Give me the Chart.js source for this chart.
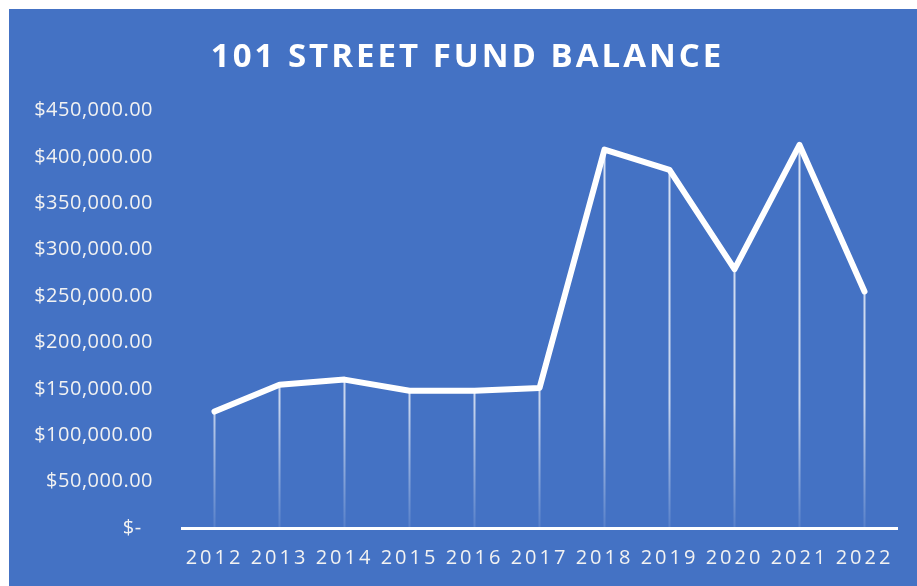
<!DOCTYPE html>
<html>
<head>
<meta charset="utf-8">
<script src="https://cdn.jsdelivr.net/npm/chart.js@4"></script>
<style>
  html, body { margin: 0; padding: 0; background: #ffffff; }
  #wrap { position: relative; width: 917px; height: 586px; }
</style>
</head>
<body>
<div id="wrap"><canvas id="chart"></canvas></div>
<script>
// Chart data
const YEARS = ['2012', '2013', '2014', '2015', '2016', '2017', '2018', '2019', '2020', '2021', '2022'];
const BALANCES = [125500, 154500, 160000, 148000, 148000, 151000, 408000, 386000, 279000, 413000, 255000];
const Y_TICKS = [0, 50000, 100000, 150000, 200000, 250000, 300000, 350000, 400000, 450000];
const TITLE = '101 STREET FUND BALANCE';

// Style constants
const FONT_FAMILY = "'Open Sans', 'DejaVu Sans', sans-serif";
const BG_COLOR = '#4472C4';
const TEXT_COLOR = '#F2F2F2';

// Canvas letterSpacing is not exposed by Chart.js, so wrap the draw call
function withSpacing(obj, name, spacing, shiftX = 0) {
  if (!obj || obj['_spaced_' + name]) return;
  const orig = obj[name];
  obj[name] = function(...args) {
    const ctx = this.ctx;
    const prev = ctx.letterSpacing;
    ctx.save();
    ctx.translate(shiftX, 0);
    ctx.letterSpacing = spacing;
    orig.apply(this, args);
    ctx.letterSpacing = prev;
    ctx.restore();
  };
  obj['_spaced_' + name] = true;
}

const panelPlugin = {
  id: 'panel',
  beforeDraw(chart) {
    const ctx = chart.ctx;
    ctx.save();
    ctx.fillStyle = BG_COLOR;
    ctx.fillRect(9, 9, chart.width - 9, chart.height - 9);
    ctx.restore();
  },
  afterLayout(chart) {
    // title sits centred on the blue panel, not on the whole canvas
    withSpacing(chart.titleBlock, 'draw', '3px', 19);
    withSpacing(chart.scales.x, 'drawLabels', '3px');
    withSpacing(chart.scales.y, 'drawLabels', '0.5px');
  }
};

// vertical drop lines from each point down to the axis, fading out at the bottom
const dropLinePlugin = {
  id: 'dropLines',
  beforeDatasetsDraw(chart) {
    const ctx = chart.ctx;
    const area = chart.chartArea;
    const base = chart.scales.y.getPixelForValue(0);
    const grad = ctx.createLinearGradient(0, area.top, 0, base);
    grad.addColorStop(0, 'rgba(255,255,255,0.8)');
    grad.addColorStop(0.7, 'rgba(255,255,255,0.7)');
    grad.addColorStop(1, 'rgba(255,255,255,0.1)');
    ctx.save();
    ctx.strokeStyle = grad;
    ctx.lineWidth = 2;
    chart.getDatasetMeta(0).data.forEach(pt => {
      ctx.beginPath();
      ctx.moveTo(pt.x, pt.y);
      ctx.lineTo(pt.x, base);
      ctx.stroke();
    });
    ctx.restore();
  }
};

new Chart(document.getElementById('chart'), {
  type: 'line',
  data: {
    labels: YEARS,
    datasets: [{
      label: 'Fund Balance',
      data: BALANCES,
      borderColor: '#ffffff',
      borderWidth: 6,
      borderJoinStyle: 'round',
      borderCapStyle: 'round',
      tension: 0,
      pointRadius: 0,
      fill: false
    }]
  },
  options: {
    responsive: true,
    maintainAspectRatio: false,
    animation: false,
    layout: {
      padding: { left: 0, right: 20, top: 0, bottom: 0 }
    },
    plugins: {
      legend: { display: false },
      tooltip: { enabled: false },
      title: {
        display: true,
        text: TITLE,
        color: '#ffffff',
        font: { family: FONT_FAMILY, size: 33, weight: 'bold', lineHeight: 1.2 },
        padding: { top: 38, bottom: 33 }
      }
    },
    scales: {
      x: {
        offset: true,
        grid: { display: false, drawTicks: false },
        border: { display: true, color: '#ffffff', width: 3 },
        afterFit(scale) { scale.height = 58; },
        ticks: {
          color: TEXT_COLOR,
          font: { family: FONT_FAMILY, size: 20 },
          padding: 18,
          autoSkip: false,
          maxRotation: 0
        }
      },
      y: {
        min: Y_TICKS[0],
        max: Y_TICKS[Y_TICKS.length - 1],
        grid: { display: false, drawTicks: false },
        border: { display: false },
        afterFit(scale) { scale.width = 182; },
        afterBuildTicks(scale) { scale.ticks = Y_TICKS.map(v => ({ value: v })); },
        ticks: {
          color: TEXT_COLOR,
          font: { family: FONT_FAMILY, size: 20 },
          padding: 29,
          callback: v => v === 0 ? '$-  ' : '$' + v.toLocaleString('en-US', { minimumFractionDigits: 2, maximumFractionDigits: 2 })
        }
      }
    }
  },
  plugins: [panelPlugin, dropLinePlugin]
});
</script>
</body>
</html>
